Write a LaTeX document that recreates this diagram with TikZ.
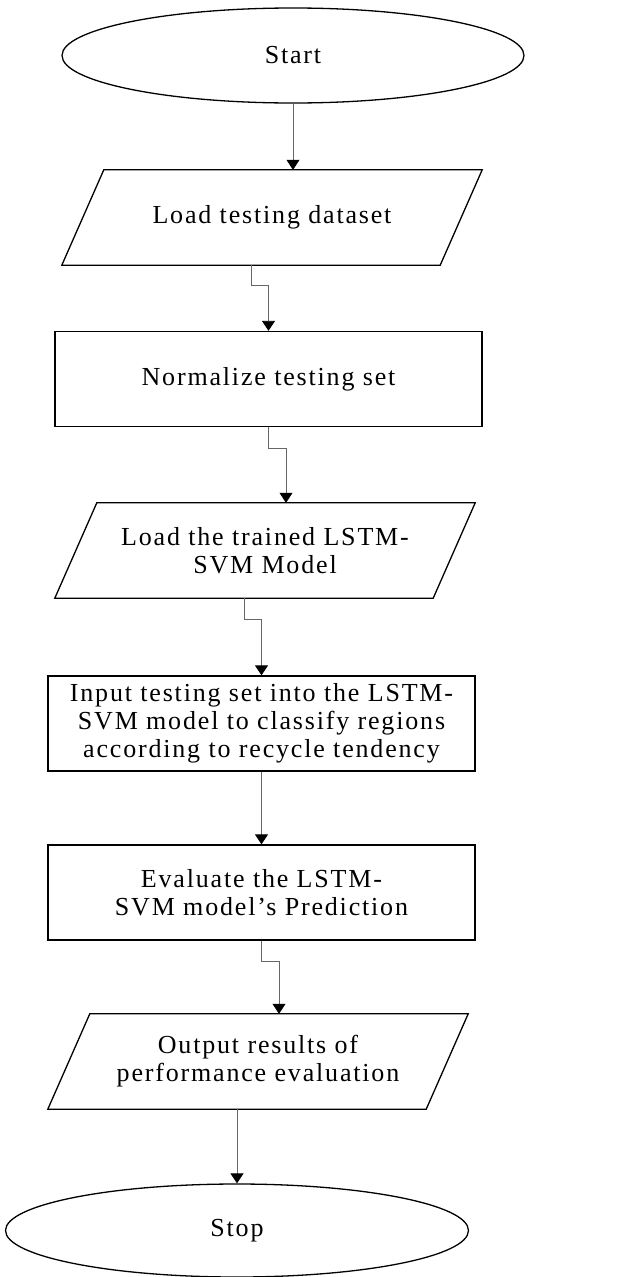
\documentclass[tikz,border=0pt]{standalone}
\usepackage{fontspec}
\setmainfont{Liberation Serif}[LetterSpace=7]
\usetikzlibrary{shapes.geometric,arrows.meta}
\begin{document}
\begin{tikzpicture}[x=1pt,y=-1pt,
  txt/.style={inner sep=0pt,align=center,font=\fontsize{26}{28}\selectfont},
  outline/.style={draw=black,line width=1.3pt},
  term/.style={txt,outline,ellipse,minimum height=95pt},
  proc/.style={txt,outline,rectangle,minimum width=427pt,minimum height=95pt},
  io/.style={txt,rectangle,minimum width=378pt,minimum height=95pt},
  flow/.style={draw=black!60,line width=0.8pt,
    -{Triangle[width=13pt,length=10pt,color=black]}}]
\useasboundingbox (0,0) rectangle (620,1277);

\node[term,minimum width=462pt] (start) at (293,55.5) {Start};
\node[io] (load) at (272,217.5) {Load testing dataset};
\node[proc] (norm) at (268.5,379) {Normalize testing set};
\node[io] (model) at (265,550.5) {Load the trained LSTM-\\SVM Model};
\node[proc] (input) at (261.5,723.5) {Input testing set into the LSTM-\\SVM model to classify regions\\according to recycle tendency};
\node[proc] (eval) at (261.5,892.5) {Evaluate the LSTM-\\SVM model’s Prediction};
\node[io] (out) at (258,1061.5) {Output results of\\performance evaluation};
\node[term,minimum width=463pt,minimum height=93pt] (stop) at (237,1230.5) {Stop};

% slanted input/output boxes around the io nodes
\foreach \n in {load,model,out}
  \draw[outline] ([xshift=21pt]\n.north west) -- ([xshift=21pt]\n.north east)
    -- ([xshift=-21pt]\n.south east) -- ([xshift=-21pt]\n.south west) -- cycle;

\draw[flow] (start.south) -- ([xshift=21pt]load.north);
\draw[flow] ([xshift=-21pt]load.south) -- ++(0,20) -| (norm.north);
\draw[flow] (norm.south) -- ++(0,21) -| ([xshift=21pt]model.north);
\draw[flow] ([xshift=-21pt]model.south) -- ++(0,21) -| (input.north);
\draw[flow] (input.south) -- (eval.north);
\draw[flow] (eval.south) -- ++(0,21) -| ([xshift=21pt]out.north);
\draw[flow] ([xshift=-21pt]out.south) -- (stop.north);
\end{tikzpicture}
\end{document}
